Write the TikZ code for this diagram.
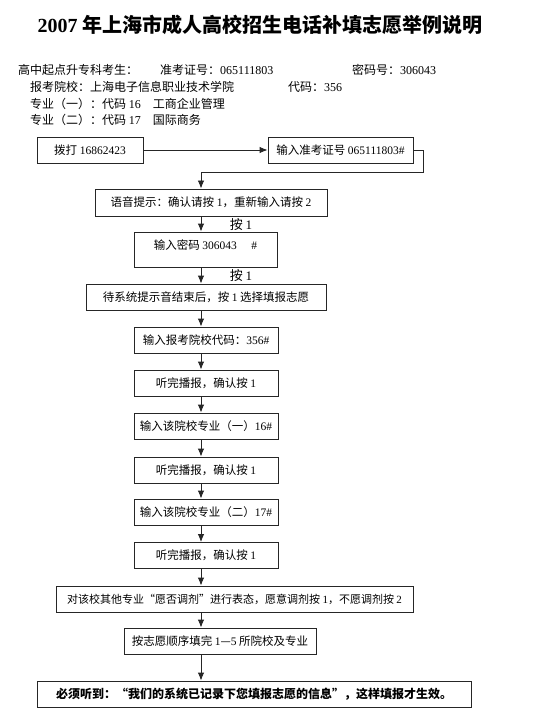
\documentclass[tikz,border=0pt]{standalone}
\usepackage{fontspec}
\setmainfont{Liberation Serif}
\newfontfamily\cjk{Noto Sans CJK SC}
\usetikzlibrary{positioning,arrows.meta}
\newcommand{\en}[1]{{\rmfamily #1}}
\tikzset{
  flowarrow/.style={-{Latex[length=8pt,width=6.5pt]}, line width=0.9pt, draw=black!85},
  stepbox/.style={draw=black!85, line width=0.9pt, minimum height=26pt, inner sep=2pt, align=center, font=\cjk\fontsize{11.5}{13}\selectfont},
  infotext/.style={anchor=west, inner sep=0pt, font=\cjk\fontsize{12}{14}\selectfont},
  presslabel/.style={inner sep=0pt, font=\cjk\fontsize{13}{15}\selectfont}
}

\begin{document}
\begin{tikzpicture}[x=1pt, y=-1pt]
  \useasboundingbox[fill=white] (0,0) rectangle (540,719);
  % title and candidate data
  \node[inner sep=0pt, font=\cjk\bfseries\fontsize{20}{24}\selectfont] (title) at (260,25) {\en{\bfseries 2007} 年上海市成人高校招生电话补填志愿举例说明};
  \node[infotext] (kind) at (18,70) {高中起点升专科考生：};
  \node[infotext] (examno) at (160,70) {准考证号：\en{065111803}};
  \node[infotext] (pwd) at (352,70) {密码号：\en{306043}};
  \node[infotext] (school) at (30,87) {报考院校：上海电子信息职业技术学院};
  \node[infotext] (code) at (288,87) {代码：\en{356}};
  \node[infotext] (major1) at (30,104) {专业（一）：代码 \en{16}\quad 工商企业管理};
  \node[infotext] (major2) at (30,120) {专业（二）：代码 \en{17}\quad 国际商务};

  % flow chart
  \coordinate (spine) at (201,0);
  \coordinate (turn) at (201,172);
  \node[stepbox, minimum width=106pt] (b1) at (90,150) {拨打 \en{16862423}};
  \node[stepbox, minimum width=145pt] (b2) at (340.5,150) {输入准考证号 \en{065111803\#}};
  \node[stepbox, minimum width=232pt, minimum height=27pt] (b3) at (211,202.5) {语音提示：确认请按 \en{1}，重新输入请按 \en{2}};
  \node[stepbox, minimum width=143pt, minimum height=35pt, text height=14pt, text depth=15pt, inner ysep=3pt] (b4) at (205.5,249.5) {输入密码 \en{306043\quad\ \#}};
  \node[stepbox, minimum width=240pt] (b5) at (206,297) {待系统提示音结束后，按 \en{1} 选择填报志愿};
  \node[stepbox, minimum width=144pt] (b6) at (206,340) {输入报考院校代码：\en{356\#}};
  \node[stepbox, minimum width=144pt] (b7) at (206,383) {听完播报，确认按 \en{1}};
  \node[stepbox, minimum width=144pt] (b8) at (206,426) {输入该院校专业（一）\en{16\#}};
  \node[stepbox, minimum width=144pt] (b9) at (206,470) {听完播报，确认按 \en{1}};
  \node[stepbox, minimum width=144pt] (b10) at (206,512) {输入该院校专业（二）\en{17\#}};
  \node[stepbox, minimum width=144pt] (b11) at (206,555.5) {听完播报，确认按 \en{1}};
  \node[stepbox, minimum width=357pt, font=\cjk\fontsize{11}{13}\selectfont] (b12) at (234.5,599) {对该校其他专业“愿否调剂”进行表态，愿意调剂按 \en{1}，不愿调剂按 \en{2}};
  \node[stepbox, minimum width=192pt] (b13) at (220,641) {按志愿顺序填完 \en{1}—\en{5} 所院校及专业};
  \node[stepbox, minimum width=434pt, font=\cjk\bfseries\fontsize{12}{14}\selectfont] (b14) at (254,694) {必须听到：“我们的系统已记录下您填报志愿的信息”，这样填报才生效。};

  \node[presslabel] (press1) at (241,225) {按 \en{1}};
  \node[presslabel] (press2) at (241,276) {按 \en{1}};

  \draw[flowarrow] (b1) -- (b2);
  \draw[flowarrow] (b2.east) -- ++(10,0) |- (turn) -- (b3.north -| turn);
  \draw[flowarrow] (b3.south -| spine) -- (b4.north -| spine);
  \draw[flowarrow] (b4.south -| spine) -- (b5.north -| spine);
  \draw[flowarrow] (b5.south -| spine) -- (b6.north -| spine);
  \draw[flowarrow] (b6.south -| spine) -- (b7.north -| spine);
  \draw[flowarrow] (b7.south -| spine) -- (b8.north -| spine);
  \draw[flowarrow] (b8.south -| spine) -- (b9.north -| spine);
  \draw[flowarrow] (b9.south -| spine) -- (b10.north -| spine);
  \draw[flowarrow] (b10.south -| spine) -- (b11.north -| spine);
  \draw[flowarrow] (b11.south -| spine) -- (b12.north -| spine);
  \draw[flowarrow] (b12.south -| spine) -- (b13.north -| spine);
  \draw[flowarrow] (b13.south -| spine) -- (b14.north -| spine);
\end{tikzpicture}
\end{document}
